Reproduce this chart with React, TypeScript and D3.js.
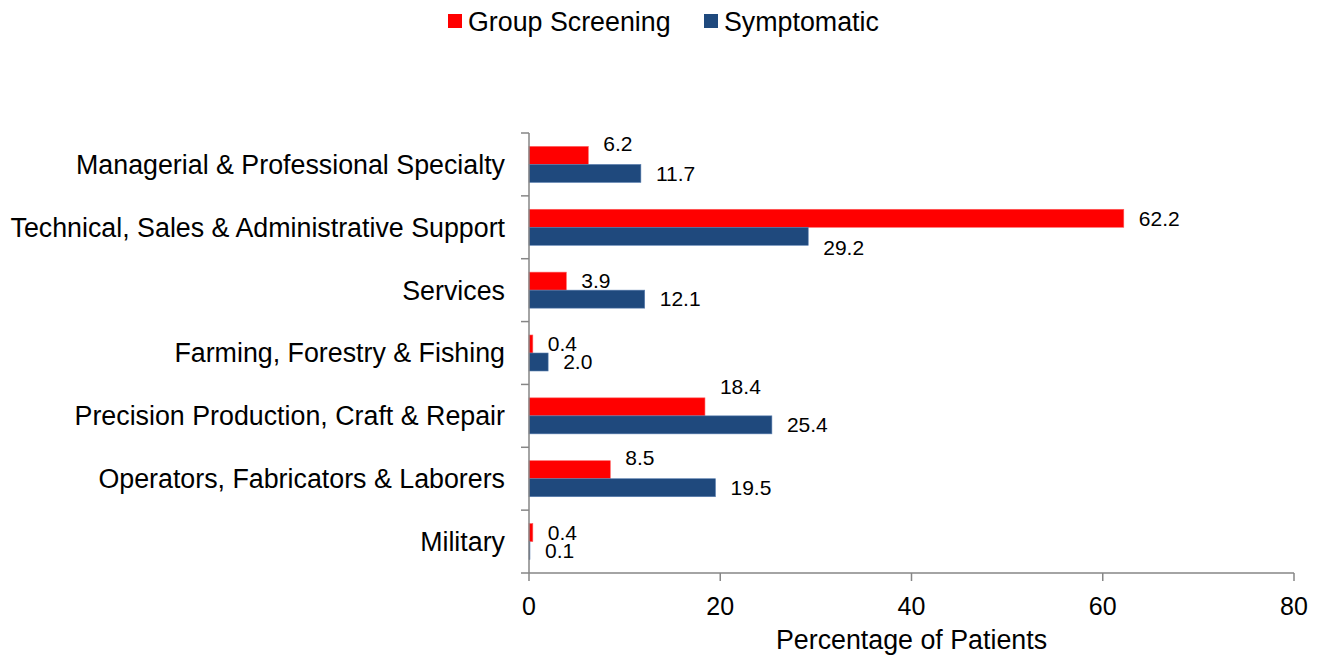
import React from "react";
import * as d3 from "d3";

const categories = [
  "Managerial & Professional Specialty",
  "Technical, Sales & Administrative Support",
  "Services",
  "Farming, Forestry & Fishing",
  "Precision Production, Craft & Repair",
  "Operators, Fabricators & Laborers",
  "Military",
];
const seriesNames = ["Group Screening", "Symptomatic"];
const groupScreening = [6.2, 62.2, 3.9, 0.4, 18.4, 8.5, 0.4];
const symptomatic = [11.7, 29.2, 12.1, 2.0, 25.4, 19.5, 0.1];
const xTicks = [0, 20, 40, 60, 80];

const colors = ["#ff0000", "#1f497d"];
const strokes = ["#ff5a5a", "#5a7fb0"];

// hand nudges for a few labels, as in the original chart
const labelNudge: Record<string, number> = {
  "0|0": -12,
  "1|1": 11,
  "4|0": -20,
  "5|0": -12,
};

const W = 1320;
const H = 658;
const left = 529;
const right = 1294;
const top = 133;
const bottom = 573;
const font = "Arial, 'Liberation Sans', sans-serif";
const bigFont = 26.8;

export default function App() {
  const x = d3.scaleLinear().domain([0, 80]).range([left, right]);
  const y = d3.scaleBand<string>().domain(categories).range([top, bottom]);
  const barH = 18;
  const values = [groupScreening, symptomatic];
  const boundaries = d3.range(categories.length + 1).map((i) => top + i * y.step());

  return (
    <svg
      width={W}
      height={H}
      style={{ position: "absolute", left: 0, top: 0, background: "#fff" }}
      fontFamily={font}
    >
      {/* legend */}
      {seriesNames.map((name, i) => {
        const lx = i === 0 ? 448 : 704;
        return (
          <g key={name}>
            <rect x={lx} y={14} width={14} height={14} fill={colors[i]} />
            <text x={lx + 20} y={31} fontSize={bigFont} fill="#000">
              {name}
            </text>
          </g>
        );
      })}

      {/* bars */}
      {categories.map((c, ci) => {
        const center = (y(c) ?? 0) + y.bandwidth() / 2;
        return (
          <g key={c}>
            {values.map((vals, si) => {
              const by = center - barH + si * barH;
              const v = vals[ci];
              const dy = labelNudge[`${ci}|${si}`] ?? 0;
              return (
                <g key={si}>
                  <rect
                    x={x(0)}
                    y={by}
                    width={Math.max(0, x(v) - x(0))}
                    height={barH}
                    fill={colors[si]}
                    stroke={strokes[si]}
                    strokeWidth={0.6}
                  />
                  <text
                    x={x(v) + 15}
                    y={by + barH / 2 + dy}
                    dy="0.35em"
                    fontSize={21}
                    fill="#000"
                  >
                    {v.toFixed(1)}
                  </text>
                </g>
              );
            })}
            <text
              x={left - 24}
              y={center}
              dy="0.35em"
              textAnchor="end"
              fontSize={bigFont}
              fill="#000"
            >
              {c}
            </text>
          </g>
        );
      })}

      {/* y axis */}
      <line x1={left} x2={left} y1={top} y2={bottom} stroke="#868686" strokeWidth={1.5} />
      {boundaries.map((b, i) => (
        <line key={i} x1={left - 8} x2={left} y1={b} y2={b} stroke="#868686" strokeWidth={1.5} />
      ))}

      {/* x axis */}
      <line x1={left} x2={right} y1={bottom} y2={bottom} stroke="#868686" strokeWidth={1.5} />
      {xTicks.map((t) => (
        <g key={t}>
          <line x1={x(t)} x2={x(t)} y1={bottom} y2={bottom + 8} stroke="#868686" strokeWidth={1.5} />
          <text x={x(t)} y={615} textAnchor="middle" fontSize={25} fill="#000">
            {t}
          </text>
        </g>
      ))}
      <text x={(left + right) / 2} y={649} textAnchor="middle" fontSize={bigFont} fill="#000">
        Percentage of Patients
      </text>
    </svg>
  );
}
